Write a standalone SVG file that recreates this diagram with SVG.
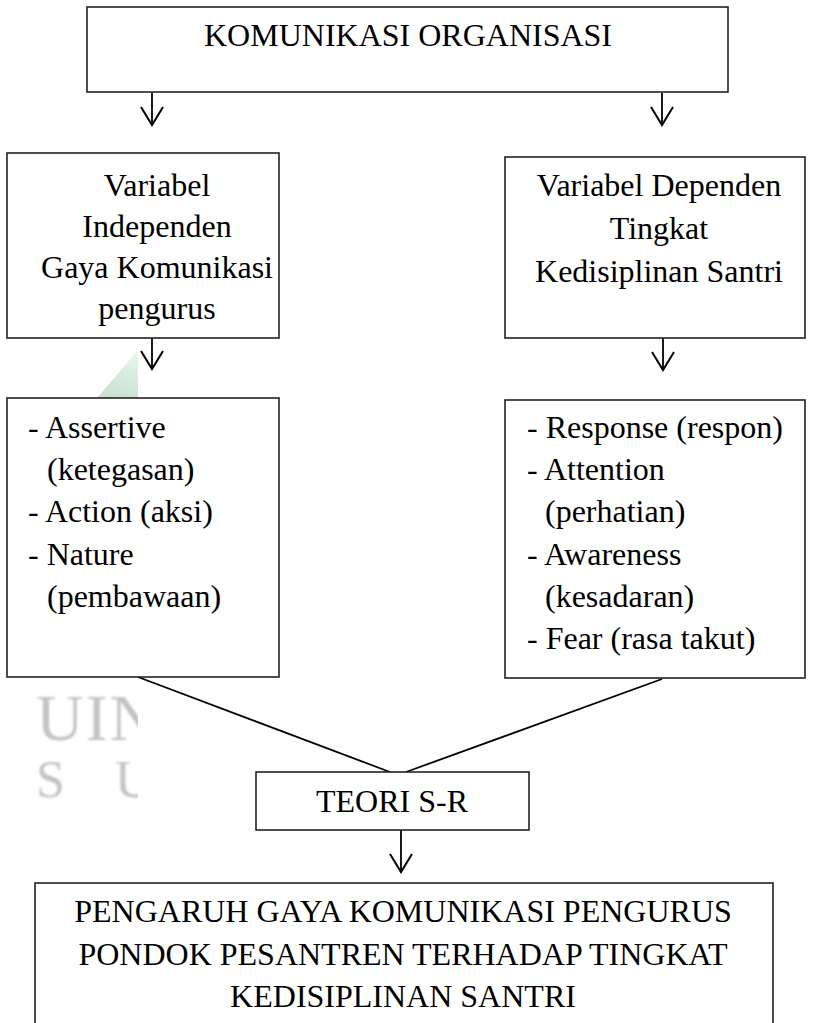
<svg xmlns="http://www.w3.org/2000/svg" width="813" height="1023" viewBox="0 0 813 1023">
<style>
.box{fill:#fff;stroke:#222;stroke-width:1.6}
.t{font-family:"Liberation Serif","Times New Roman",serif;font-size:32px;fill:#000}
.c{text-anchor:middle}
.ln{stroke:#000;stroke-width:1.8;fill:none}
.wm{font-family:"Liberation Serif","Times New Roman",serif;fill:#c4c4c4}
</style>
<defs>
<marker id="ah" markerUnits="userSpaceOnUse" viewBox="-20 -13 22 26" refX="0" refY="0" markerWidth="22" markerHeight="26" orient="auto" overflow="visible">
<path d="M-18,-11 L0,0 L-18,11" fill="none" stroke="#000" stroke-width="2"/>
</marker>
<clipPath id="wmclip"><rect x="0" y="600" width="138" height="250"/></clipPath>
<filter id="blur"><feGaussianBlur stdDeviation="1.2"/></filter>
<linearGradient id="gr" x1="0" y1="1" x2="0.3" y2="0">
<stop offset="0" stop-color="#c3dfcc"/><stop offset="1" stop-color="#e6f2ea"/>
</linearGradient>
</defs>
<rect width="813" height="1023" fill="#fff"/>
<g id="watermark">
<polygon points="97,398 138,350 138,398" fill="url(#gr)"/>
<g clip-path="url(#wmclip)" filter="url(#blur)">
<text class="wm" x="36" y="740" font-size="66" letter-spacing="2">UIN</text>
<text class="wm" x="36" y="797" font-size="52">S</text>
<text class="wm" x="115" y="797" font-size="52">U</text>
</g>
</g>
<g id="connectors">
<line class="ln" x1="152" y1="93" x2="152" y2="125" marker-end="url(#ah)"/>
<line class="ln" x1="662" y1="93" x2="662" y2="125" marker-end="url(#ah)"/>
<line class="ln" x1="152" y1="338" x2="152" y2="369" marker-end="url(#ah)"/>
<line class="ln" x1="663" y1="338" x2="663" y2="370" marker-end="url(#ah)"/>
<line class="ln" x1="401" y1="830" x2="401" y2="872" marker-end="url(#ah)"/>
<line class="ln" x1="138" y1="677" x2="390" y2="772"/>
<line class="ln" x1="662" y1="679" x2="406" y2="772"/>
</g>
<g id="n-komunikasi">
<rect class="box" x="87" y="7" width="641" height="85"/>
<text class="t c" x="408" y="46">KOMUNIKASI ORGANISASI</text>
</g>
<g id="n-independen">
<rect class="box" x="7" y="153" width="272" height="185"/>
<text class="t c" x="157" y="196">Variabel</text>
<text class="t c" x="157" y="237">Independen</text>
<text class="t c" x="157" y="278">Gaya Komunikasi</text>
<text class="t c" x="157" y="319">pengurus</text>
</g>
<g id="n-dependen">
<rect class="box" x="505" y="157" width="300" height="181"/>
<text class="t c" x="659" y="196">Variabel Dependen</text>
<text class="t c" x="659" y="239">Tingkat</text>
<text class="t c" x="659" y="282">Kedisiplinan Santri</text>
</g>
<g id="n-indikator-x">
<rect class="box" x="7" y="398" width="272" height="279"/>
<text class="t" x="28" y="438">- Assertive</text>
<text class="t" x="47" y="480">(ketegasan)</text>
<text class="t" x="28" y="522">- Action (aksi)</text>
<text class="t" x="28" y="565">- Nature</text>
<text class="t" x="47" y="607">(pembawaan)</text>
</g>
<g id="n-indikator-y">
<rect class="box" x="505" y="400" width="300" height="278"/>
<text class="t" x="527" y="438">- Response (respon)</text>
<text class="t" x="527" y="480">- Attention</text>
<text class="t" x="545" y="522">(perhatian)</text>
<text class="t" x="527" y="565">- Awareness</text>
<text class="t" x="545" y="607">(kesadaran)</text>
<text class="t" x="527" y="649">- Fear (rasa takut)</text>
</g>
<g id="n-teori">
<rect class="box" x="256" y="772" width="273" height="58"/>
<text class="t c" x="392" y="812">TEORI S-R</text>
</g>
<g id="n-pengaruh">
<rect class="box" x="35" y="883" width="738" height="160"/>
<text class="t c" x="403" y="922">PENGARUH GAYA KOMUNIKASI PENGURUS</text>
<text class="t c" x="403" y="965">PONDOK PESANTREN TERHADAP TINGKAT</text>
<text class="t c" x="403" y="1007">KEDISIPLINAN SANTRI</text>
</g>
</svg>
